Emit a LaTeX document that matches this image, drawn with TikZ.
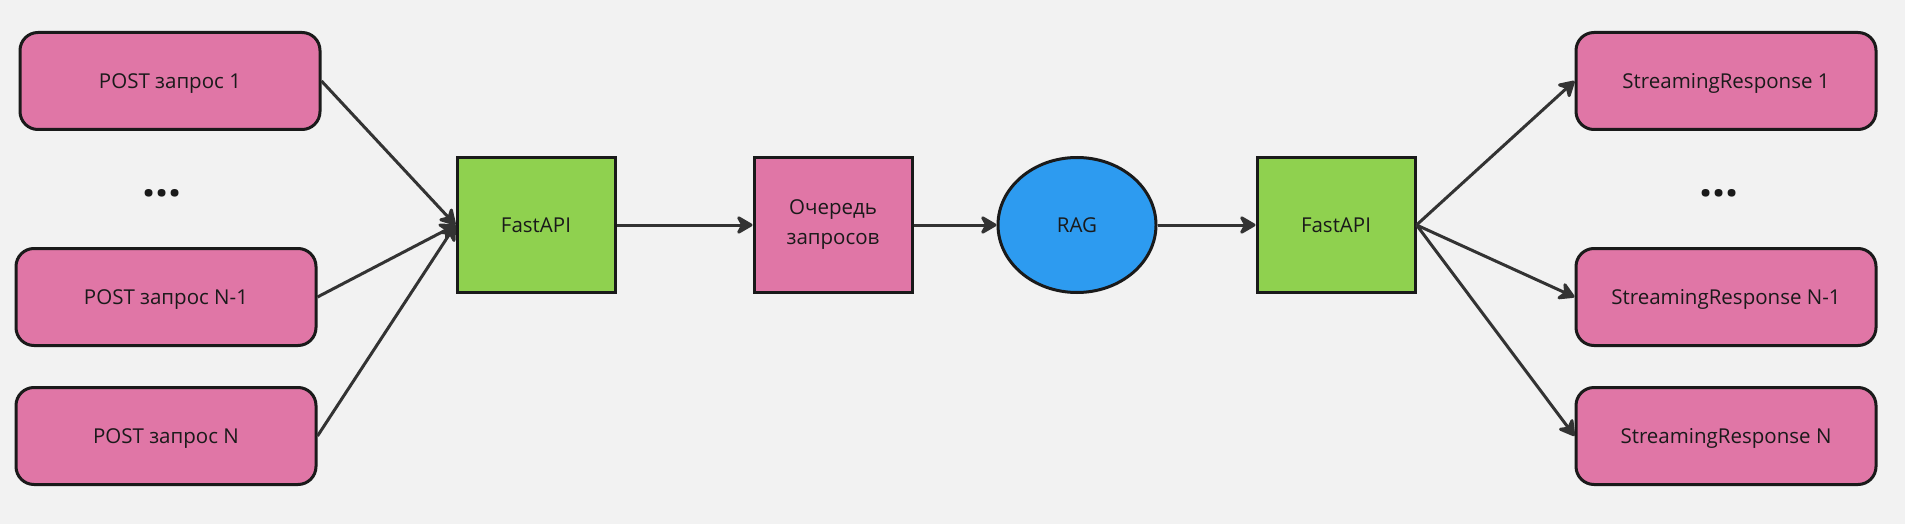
\documentclass[tikz,border=0pt]{standalone}
\usepackage{fontspec}
\setmainfont{Open Sans}
\usepackage{tikz}
\usetikzlibrary{arrows.meta,shapes.geometric,positioning}
\definecolor{reqpink}{HTML}{E076A6}
\definecolor{apigreen}{HTML}{8FD14F}
\definecolor{ragblue}{HTML}{2D9BF0}
\definecolor{bggray}{HTML}{F2F2F2}
\definecolor{edgegray}{HTML}{333333}
\definecolor{txt}{HTML}{1A1A1A}

\begin{document}
\begin{tikzpicture}[x=1pt, y=-1pt,
    every node/.style={font=\fontsize{20.5}{30}\selectfont, text=txt},
    oneline/.style={text height=14.6pt, text depth=0pt},
    req/.style={draw=txt, line width=3pt, fill=reqpink, rounded corners=18pt, minimum width=300pt, minimum height=97pt, oneline},
    blk/.style={draw=txt, line width=3pt, minimum width=158pt, minimum height=135pt, align=center},
    dots/.style={font=\fontsize{46}{46}\selectfont\bfseries},
    arr/.style={draw=edgegray, line width=3pt, -{Stealth[length=19pt, width=22pt, inset=6pt, round]}}
]
    \fill[bggray] (0,0) rectangle (1905,524);
    \useasboundingbox (0,0) rectangle (1905,524);

    \node[req] (post1) at (170,81) {POST запрос 1};
    \node[dots] (dotsl) at (162,193) {...};
    \node[req] (postn1) at (166,297) {POST запрос N-1};
    \node[req] (postn) at (166,436) {POST запрос N};

    \node[blk, oneline, fill=apigreen] (api1) at (536,225) {FastAPI};
    \node[blk, fill=reqpink] (queue) at (833,225) {Очередь\\запросов};
    \node[blk, oneline, ellipse, fill=ragblue, inner sep=0pt] (rag) at (1077,225) {RAG};
    \node[blk, oneline, fill=apigreen] (api2) at (1336,225) {FastAPI};

    \node[req] (resp1) at (1726,81) {StreamingResponse 1};
    \node[dots] (dotsr) at (1719,193) {...};
    \node[req] (respn1) at (1726,297) {StreamingResponse N-1};
    \node[req] (respn) at (1726,436) {StreamingResponse N};

    \foreach \src in {post1,postn1,postn}
        \draw[arr] (\src.east) -- (api1.west);
    \draw[arr] (api1) -- (queue);
    \draw[arr] (queue) -- (rag);
    \draw[arr] (rag) -- (api2);
    \foreach \dst in {resp1,respn1,respn}
        \draw[arr] (api2.east) -- (\dst.west);
\end{tikzpicture}
\end{document}
